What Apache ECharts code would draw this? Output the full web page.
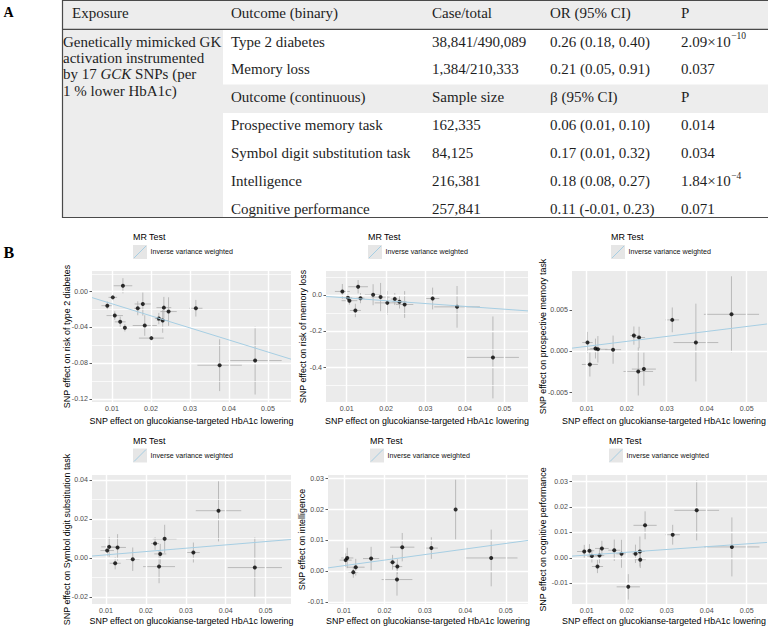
<!DOCTYPE html>
<html><head><meta charset="utf-8">
<script src="https://cdn.jsdelivr.net/npm/echarts@6/dist/echarts.min.js"></script>
<style>html,body{margin:0;padding:0;background:#fff}#c{width:768px;height:626px}</style>
</head><body><div id="c"></div>
<script>
// ---------------- Table (panel A) ----------------
const tableHeader = ['Exposure', 'Outcome (binary)', 'Case/total', 'OR (95% CI)', 'P'];
const exposureLines = ['Genetically mimicked GK', 'activation instrumented', 'by 17 |GCK| SNPs (per', '1 % lower HbA1c)'];
const binaryOutcomes = ['Type 2 diabetes', 'Memory loss'];
const binaryCaseTotal = ['38,841/490,089', '1,384/210,333'];
const binaryOR = ['0.26 (0.18, 0.40)', '0.21 (0.05, 0.91)'];
const binaryP = ['2.09×10^−10', '0.037'];
const contHeader = ['Outcome (continuous)', 'Sample size', 'β (95% CI)', 'P'];
const contOutcomes = ['Prospective memory task', 'Symbol digit substitution task', 'Intelligence', 'Cognitive performance'];
const contN = ['162,335', '84,125', '216,381', '257,841'];
const contBeta = ['0.06 (0.01, 0.10)', '0.17 (0.01, 0.32)', '0.18 (0.08, 0.27)', '0.11 (-0.01, 0.23)'];
const contP = ['0.014', '0.034', '1.84×10^−4', '0.071'];

// ---------------- Scatter plots (panel B) ----------------
const xTitle = 'SNP effect on glucokianse-targeted HbA1c lowering';
const yTitles = ['SNP effect on risk of type 2 diabetes', 'SNP effect on risk of memory loss', 'SNP effect on prospective memory task',
  'SNP effect on Symbol digit substitution task', 'SNP effect on intelligence', 'SNP effect on cognitive performance'];
const legendTitle = 'MR Test';
const legendLabel = 'Inverse variance weighted';
const xTicks = [0.01, 0.02, 0.03, 0.04, 0.05];
const yTicks1 = [-0.12, -0.08, -0.04, 0];
const yTicks2 = [-0.4, -0.2, 0];
const yTicks3 = [-0.005, 0, 0.005];
const yTicks4 = [-0.02, 0, 0.02, 0.04];
const yTicks5 = [-0.01, 0, 0.01, 0.02, 0.03];
const yTicks6 = [-0.01, 0, 0.01, 0.02, 0.03];
const ivwSlope = [-1.35, -1.56, 0.06, 0.17, 0.18, 0.11];

// Type 2 diabetes
const p1X   = [0.0088, 0.0102, 0.0128, 0.0107, 0.0121, 0.0133, 0.0166, 0.0179, 0.0184, 0.0201, 0.0220, 0.0230, 0.0233, 0.0245, 0.0315, 0.0376, 0.0467];
const p1Y   = [-0.0156, -0.0063, 0.0067, -0.0267, -0.0337, -0.0404, -0.0185, -0.0137, -0.0378, -0.0519, -0.0300, -0.0322, -0.0178, -0.0222, -0.0185, -0.0822, -0.0770];
const p1Xse = [0.0015, 0.0011, 0.0024, 0.0021, 0.0014, 0.0010, 0.0009, 0.0021, 0.0031, 0.0032, 0.0010, 0.0015, 0.0019, 0.0021, 0.0017, 0.0057, 0.0068];
const p1Yse = [0.0046, 0.0044, 0.0085, 0.0048, 0.0059, 0.0041, 0.0078, 0.0130, 0.0115, 0.0120, 0.0063, 0.0137, 0.0120, 0.0160, 0.0093, 0.0290, 0.0380];
// Memory loss
const p2X   = [0.0089, 0.0103, 0.0107, 0.0122, 0.0129, 0.0135, 0.0167, 0.0186, 0.0203, 0.0222, 0.0234, 0.0247, 0.0318, 0.0380, 0.0471];
const p2Y   = [0.020, -0.015, -0.031, -0.085, 0.046, -0.017, 0.002, -0.011, -0.043, -0.022, -0.037, -0.052, -0.019, -0.065, -0.344];
const p2Xse = [0.0019, 0.0011, 0.0020, 0.0014, 0.0025, 0.0010, 0.0021, 0.0023, 0.0032, 0.0010, 0.0018, 0.0022, 0.0017, 0.0058, 0.0066];
const p2Yse = [0.041, 0.020, 0.022, 0.037, 0.037, 0.028, 0.058, 0.078, 0.065, 0.033, 0.037, 0.074, 0.060, 0.115, 0.226];
// Prospective memory task
const p3X   = [0.0102, 0.0108, 0.0122, 0.0128, 0.0166, 0.0218, 0.0231, 0.0229, 0.0243, 0.0314, 0.0373, 0.0462];
const p3Y   = [0.00106, -0.00159, 0.00033, 0.00024, 0.00020, 0.00190, 0.00167, -0.00244, -0.00215, 0.00380, 0.00106, 0.00447];
const p3Xse = [0.0013, 0.0020, 0.0013, 0.0024, 0.0020, 0.0009, 0.0015, 0.0037, 0.0030, 0.0017, 0.0056, 0.0069];
const p3Yse = [0.00128, 0.00146, 0.00120, 0.00160, 0.00170, 0.00110, 0.00130, 0.00290, 0.00200, 0.00150, 0.00470, 0.00460];
// Symbol digit substitution task
const p4X   = [0.0103, 0.0108, 0.0129, 0.0123, 0.0167, 0.0223, 0.0236, 0.0233, 0.0247, 0.0319, 0.0382, 0.0473];
const p4Y   = [0.0039, 0.0058, 0.0055, -0.0026, -0.0005, 0.0075, 0.0022, -0.0043, 0.0099, 0.0029, 0.0243, -0.0048];
const p4Xse = [0.0017, 0.0020, 0.0021, 0.0014, 0.0017, 0.0010, 0.0015, 0.0040, 0.0030, 0.0016, 0.0057, 0.0068];
const p4Yse = [0.0029, 0.0051, 0.0068, 0.0031, 0.0060, 0.0032, 0.0051, 0.0085, 0.0072, 0.0051, 0.0157, 0.0154];
// Intelligence
const p5X   = [0.0104, 0.0108, 0.0123, 0.0129, 0.0167, 0.0220, 0.0232, 0.0231, 0.0244, 0.0316, 0.0376, 0.0464];
const p5Y   = [0.0036, 0.0043, -0.0003, 0.0013, 0.0041, 0.0029, 0.0015, -0.0027, 0.0078, 0.0075, 0.0200, 0.0043];
const p5Xse = [0.0015, 0.0015, 0.0012, 0.0022, 0.0020, 0.0007, 0.0012, 0.0038, 0.0030, 0.0016, 0.0056, 0.0065];
const p5Yse = [0.0022, 0.0033, 0.0018, 0.0027, 0.0038, 0.0024, 0.0024, 0.0052, 0.0046, 0.0035, 0.0097, 0.0092];
// Cognitive performance
const p6X   = [0.0094, 0.0107, 0.0113, 0.0127, 0.0132, 0.0138, 0.0169, 0.0187, 0.0204, 0.0222, 0.0233, 0.0234, 0.0246, 0.0315, 0.0375, 0.0463];
const p6Y   = [0.0025, 0.0028, 0.0007, -0.0034, 0.0009, 0.0037, 0.0030, 0.0016, -0.0114, 0.0016, 0.0025, -0.0007, 0.0128, 0.0091, 0.0187, 0.0043];
const p6Xse = [0.0018, 0.0012, 0.0014, 0.0014, 0.0012, 0.0017, 0.0015, 0.0013, 0.0029, 0.0008, 0.0012, 0.0014, 0.0029, 0.0018, 0.0056, 0.0069];
const p6Yse = [0.0026, 0.0026, 0.0025, 0.0026, 0.0030, 0.0030, 0.0042, 0.0055, 0.0050, 0.0036, 0.0059, 0.0033, 0.0055, 0.0039, 0.0118, 0.0116];

// ---------------- Layout & style ----------------
const SANS = "'Liberation Sans', Arial, sans-serif";
const SERIF = "'Liberation Serif', 'Times New Roman', serif";
const panelData = [
  {x: p1X, y: p1Y, xse: p1Xse, yse: p1Yse, yTicks: yTicks1, dec: 2},
  {x: p2X, y: p2Y, xse: p2Xse, yse: p2Yse, yTicks: yTicks2, dec: 1},
  {x: p3X, y: p3Y, xse: p3Xse, yse: p3Yse, yTicks: yTicks3, dec: 3},
  {x: p4X, y: p4Y, xse: p4Xse, yse: p4Yse, yTicks: yTicks4, dec: 2},
  {x: p5X, y: p5Y, xse: p5Xse, yse: p5Yse, yTicks: yTicks5, dec: 2},
  {x: p6X, y: p6Y, xse: p6Xse, yse: p6Yse, yTicks: yTicks6, dec: 2}
];
const layout = [
  {l: 92,  t: 271, r: 291, b: 402, xMin: 0.00487, xMax: 0.0559, yMin: -0.1234, yMax: 0.0232, legX: 133, ytx: 66.7, xtx: 191.5},
  {l: 326, t: 271, r: 528, b: 402, xMin: 0.00475, xMax: 0.0560, yMin: -0.590,  yMax: 0.1328, legX: 368, ytx: 303, xtx: 427},
  {l: 572, t: 271, r: 767, b: 402, xMin: 0.00633, xMax: 0.05508, yMin: -0.00613, yMax: 0.00971, legX: 611, ytx: 543, xtx: 664},
  {l: 92,  t: 475, r: 291, b: 604, xMin: 0.00649, xMax: 0.05637, yMin: -0.02343, yMax: 0.04256, legX: 133, ytx: 66.7, xtx: 191.5},
  {l: 328, t: 475, r: 528, b: 604, xMin: 0.00604, xMax: 0.0555, yMin: -0.01063, yMax: 0.0312, legX: 370, ytx: 302, xtx: 428},
  {l: 572, t: 475, r: 767, b: 604, xMin: 0.00633, xMax: 0.05508, yMin: -0.01815, yMax: 0.0326, legX: 609, ytx: 543, xtx: 664}
];
const rowLegend = [{title: 237, key: 245}, {title: 441, key: 448.5}];
const xTitleY = [420.5, 621];

function minorOf(ticks, lo, hi) {
  const d = ticks[1] - ticks[0];
  const out = [];
  for (let k = -1; k < ticks.length; k++) {
    const v = (k < 0 ? ticks[0] - d : ticks[k]) + d / 2;
    if (v > lo && v < hi) out.push(v);
  }
  return out;
}

const grids = [], xAxes = [], yAxes = [], series = [], graphics = [];
panelData.forEach((P, i) => {
  const L = layout[i];
  grids.push({left: L.l, top: L.t, width: L.r - L.l, height: L.b - L.t, show: true, z: 0, backgroundColor: '#EBEBEB', borderWidth: 0, containLabel: false});
  xAxes.push({type: 'value', gridIndex: i, min: L.xMin, max: L.xMax,
    axisLine: {show: false}, splitLine: {show: false},
    axisTick: {show: true, customValues: xTicks, length: 2.5, lineStyle: {color: '#333333', width: 0.8}},
    axisLabel: {show: true, customValues: xTicks, formatter: v => (+v).toFixed(2), color: '#4D4D4D', fontSize: 7.1, fontFamily: SANS, margin: 3.5}});
  yAxes.push({type: 'value', gridIndex: i, min: L.yMin, max: L.yMax,
    axisLine: {show: false}, splitLine: {show: false},
    axisTick: {show: true, customValues: P.yTicks, length: 2.5, lineStyle: {color: '#333333', width: 0.8}},
    axisLabel: {show: true, customValues: P.yTicks, formatter: v => (+v).toFixed(P.dec), color: '#4D4D4D', fontSize: 7.1, fontFamily: SANS, margin: 4}});
  const xMinor = minorOf(xTicks, L.xMin, L.xMax), yMinor = minorOf(P.yTicks, L.yMin, L.yMax);
  // panel grid lines (white, ggplot style) via markLine on a carrier series
  const ml = [];
  xMinor.forEach(v => ml.push({xAxis: v, lineStyle: {width: 0.7, color: '#FFFFFF', type: 'solid'}}));
  yMinor.forEach(v => ml.push({yAxis: v, lineStyle: {width: 0.7, color: '#FFFFFF', type: 'solid'}}));
  xTicks.forEach(v => ml.push({xAxis: v, lineStyle: {width: 1.4, color: '#FFFFFF', type: 'solid'}}));
  P.yTicks.forEach(v => ml.push({yAxis: v, lineStyle: {width: 1.4, color: '#FFFFFF', type: 'solid'}}));
  series.push({type: 'scatter', xAxisIndex: i, yAxisIndex: i, z: 3, silent: true, symbolSize: 0,
    itemStyle: {opacity: 0}, data: [[L.xMin, L.yMin]],
    markLine: {silent: true, animation: false, symbol: ['none', 'none'], label: {show: false},
      emphasis: {disabled: true}, lineStyle: {color: '#FFFFFF', type: 'solid'}, data: ml}});
  // error bars
  series.push({type: 'custom', xAxisIndex: i, yAxisIndex: i, silent: true, z: 4, clip: true,
    encode: {x: 0, y: 1},
    data: P.x.map((xv, k) => [xv, P.y[k], P.xse[k], P.yse[k]]),
    renderItem: (params, api) => {
      const x = api.value(0), y = api.value(1), xs = api.value(2), ys = api.value(3);
      const a = api.coord([x, y - ys]), b = api.coord([x, y + ys]);
      const c = api.coord([x - xs, y]), d = api.coord([x + xs, y]);
      const st = {stroke: '#ADADAD', lineWidth: 0.8};
      return {type: 'group', children: [
        {type: 'line', shape: {x1: a[0], y1: a[1], x2: b[0], y2: b[1]}, style: st},
        {type: 'line', shape: {x1: c[0], y1: c[1], x2: d[0], y2: d[1]}, style: st}]};
    }});
  // points
  series.push({type: 'scatter', xAxisIndex: i, yAxisIndex: i, z: 5, symbol: 'circle', symbolSize: 4,
    itemStyle: {color: '#000000'}, silent: true, data: P.x.map((xv, k) => [xv, P.y[k]])});
  // IVW line through origin
  series.push({type: 'line', xAxisIndex: i, yAxisIndex: i, z: 6, showSymbol: false, silent: true, clip: true,
    lineStyle: {color: '#A6CEE3', width: 1}, data: [[L.xMin, ivwSlope[i] * L.xMin], [L.xMax, ivwSlope[i] * L.xMax]]});

  // axis titles
  graphics.push({type: 'text', x: L.xtx, y: xTitleY[i < 3 ? 0 : 1], z: 10,
    style: {text: xTitle, fill: '#000', fontSize: 8.9, fontFamily: SANS, align: 'center', verticalAlign: 'middle', textAlign: 'center', textVerticalAlign: 'middle'}});
  graphics.push({type: 'text', x: L.ytx, y: (L.t + L.b) / 2, rotation: Math.PI / 2, z: 10,
    style: {text: yTitles[i], fill: '#000', fontSize: 8.9, fontFamily: SANS, align: 'center', verticalAlign: 'middle', textAlign: 'center', textVerticalAlign: 'middle'}});
  // legend
  const R = rowLegend[i < 3 ? 0 : 1];
  graphics.push({type: 'text', x: L.legX, y: R.title, z: 10,
    style: {text: legendTitle, fill: '#000', fontSize: 8.9, fontFamily: SANS, align: 'left', verticalAlign: 'middle', textAlign: 'left', textVerticalAlign: 'middle'}});
  graphics.push({type: 'rect', z: 10, shape: {x: L.legX, y: R.key, width: 14, height: 14}, style: {fill: '#E6E6E6'}});
  graphics.push({type: 'line', z: 11, shape: {x1: L.legX + 1, y1: R.key + 13, x2: L.legX + 13, y2: R.key + 1}, style: {stroke: '#A6CEE3', lineWidth: 1}});
  graphics.push({type: 'text', x: L.legX + 17.5, y: R.key + 7, z: 10,
    style: {text: legendLabel, fill: '#111', fontSize: 7.1, fontFamily: SANS, align: 'left', verticalAlign: 'middle', textAlign: 'left', textVerticalAlign: 'middle'}});
});

// ---------------- Table graphics ----------------
const TF = 15, TCOL = '#1E1E1E';
const colX = [72, 231, 432, 550, 681];
const mctx = document.createElement('canvas').getContext('2d');
function tw(s, size) { mctx.font = size + "px 'Liberation Serif'"; return mctx.measureText(s).width; }
function ttext(s, x, y, extra) {
  graphics.push(Object.assign({type: 'text', x: x, y: y, z: 20,
    style: {text: s, fill: TCOL, fontSize: TF, fontFamily: SERIF, align: 'left', verticalAlign: 'middle', textAlign: 'left', textVerticalAlign: 'middle'}}, extra || {}));
}
function pText(s, x, y) {
  const parts = s.split('^');
  ttext(parts[0], x, y);
  if (parts.length > 1) {
    const w = tw(parts[0], TF);
    graphics.push({type: 'text', x: x + w + 0.5, y: y - 5.5, z: 20,
      style: {text: parts[1], fill: TCOL, fontSize: 9.5, fontFamily: SERIF, align: 'left', verticalAlign: 'middle', textAlign: 'left', textVerticalAlign: 'middle'}});
  }
}
const TL = 62.5, TR = 769, TT = 0.5, TB = 217.5, HB = 29.3;
graphics.push({type: 'rect', z: 15, shape: {x: TL, y: TT, width: TR - TL, height: HB - TT}, style: {fill: '#EDEDED'}});
graphics.push({type: 'rect', z: 15, shape: {x: TL, y: HB, width: 223 - TL, height: TB - HB}, style: {fill: '#EDEDED'}});
graphics.push({type: 'rect', z: 15, shape: {x: 223, y: 84.5, width: TR - 223, height: 28.5}, style: {fill: '#EDEDED'}});
graphics.push({type: 'rect', z: 16, shape: {x: TL, y: TT, width: TR - TL, height: TB - TT}, style: {fill: 'none', stroke: '#4A4A4A', lineWidth: 1.2}});
graphics.push({type: 'line', z: 16, shape: {x1: TL, y1: HB, x2: TR, y2: HB}, style: {stroke: '#4A4A4A', lineWidth: 1.2}});

tableHeader.forEach((h, k) => ttext(h, colX[k], 12.5));
const expY = [41.7, 58.1, 74.3, 90.6];
exposureLines.forEach((ln, k) => {
  if (ln.indexOf('|') >= 0) {
    const seg = ln.split('|');
    graphics.push({type: 'text', x: 63, y: expY[k], z: 20, style: {
      text: '{n|' + seg[0] + '}{i|' + seg[1] + '}{n|' + seg[2] + '}', align: 'left', verticalAlign: 'middle', textAlign: 'left', textVerticalAlign: 'middle',
      rich: {n: {fontSize: TF, fontFamily: SERIF, fill: TCOL, color: TCOL}, i: {fontSize: TF, fontFamily: SERIF, fontStyle: 'italic', fill: TCOL, color: TCOL}}}});
  } else ttext(ln, 63, expY[k]);
});
const binY = [41.5, 68.7];
binaryOutcomes.forEach((o, k) => {
  ttext(o, colX[1], binY[k]); ttext(binaryCaseTotal[k], colX[2], binY[k]); ttext(binaryOR[k], colX[3], binY[k]); pText(binaryP[k], colX[4], binY[k]);
});
contHeader.forEach((h, k) => ttext(h, colX[k + 1], 97));
const contY = [124.6, 152.5, 181.2, 208.9];
contOutcomes.forEach((o, k) => {
  ttext(o, colX[1], contY[k]); ttext(contN[k], colX[2], contY[k]); ttext(contBeta[k], colX[3], contY[k]); pText(contP[k], colX[4], contY[k]);
});
// panel letters
graphics.push({type: 'text', x: 3.5, y: 12.5, z: 20, style: {text: 'A', fill: '#000', fontSize: 14, fontWeight: 'bold', fontFamily: SERIF, align: 'left', verticalAlign: 'middle', textAlign: 'left', textVerticalAlign: 'middle'}});
graphics.push({type: 'text', x: 3.5, y: 252.5, z: 20, style: {text: 'B', fill: '#000', fontSize: 16, fontWeight: 'bold', fontFamily: SERIF, align: 'left', verticalAlign: 'middle', textAlign: 'left', textVerticalAlign: 'middle'}});

const chart = echarts.init(document.getElementById('c'), null, {renderer: 'svg', width: 768, height: 626});
chart.setOption({
  animation: false,
  backgroundColor: '#FFFFFF',
  grid: grids, xAxis: xAxes, yAxis: yAxes, series: series,
  graphic: {elements: graphics}
});
</script>
</body></html>
